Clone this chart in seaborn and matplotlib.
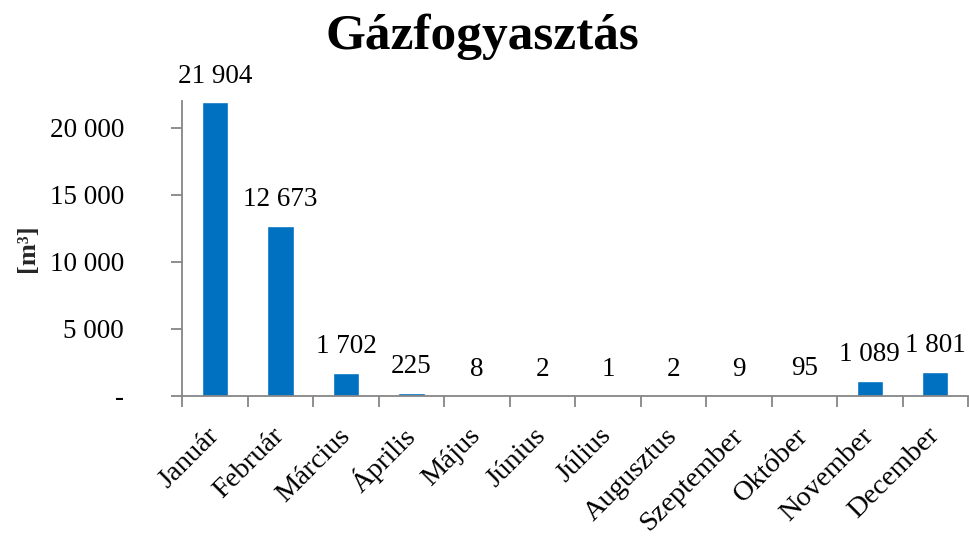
import seaborn as sns
import matplotlib.pyplot as plt
import matplotlib.ticker as mticker
import pandas as pd

months = ["Január", "Február", "Március", "Április", "Május", "Június",
          "Július", "Augusztus", "Szeptember", "Október", "November", "December"]
gas_m3 = [21904, 12673, 1702, 225, 8, 2, 1, 2, 9, 95, 1089, 1801]

df = pd.DataFrame({"month": months, "gas": gas_m3})


def hu_num(v):
    v = int(round(v))
    if v == 0:
        return "-"
    return f"{v:,}".replace(",", " ")


sns.set_style("white")
plt.rcParams["font.family"] = ["Liberation Serif", "DejaVu Serif"]
plt.rcParams["text.color"] = "black"
plt.rcParams["xtick.color"] = "black"
plt.rcParams["ytick.color"] = "black"

fig, ax = plt.subplots(figsize=(9.7, 5.38), dpi=100)
sns.barplot(data=df, x="month", y="gas", color="#0070C0", width=0.4,
            saturation=1, ax=ax)

# value labels above bars
for i, v in enumerate(gas_m3):
    ax.annotate(hu_num(v), (i, v), xytext=(0, 10), textcoords="offset points",
                ha="center", va="bottom", fontsize=19.5)

ax.set_xlim(-0.5, len(months) - 0.5)
ax.set_ylim(0, 22000)
ax.yaxis.set_major_locator(mticker.MultipleLocator(5000))
ax.yaxis.set_major_formatter(mticker.FuncFormatter(lambda v, p: hu_num(v)))

# tick marks between categories, labels under the bars
ax.tick_params(bottom=True, left=True)
ax.set_xticks(range(len(months)))
ax.set_xticks([i - 0.5 for i in range(len(months) + 1)], minor=True)
ax.tick_params(axis="x", which="major", length=0, pad=26)
ax.tick_params(axis="x", which="minor", bottom=True, length=8,
               color="#868686", width=1.3)
ax.tick_params(axis="y", length=8, color="#868686", width=1.3, pad=34,
               labelsize=19.5)
ax.set_xticklabels(months, rotation=45, ha="right", va="center",
                   rotation_mode="anchor", fontsize=20.5)

for side in ["top", "right"]:
    ax.spines[side].set_visible(False)
for side in ["left", "bottom"]:
    ax.spines[side].set_color("#868686")
    ax.spines[side].set_linewidth(1.3)

ax.set_xlabel("")
ax.set_ylabel("[m³]", fontsize=19, fontweight="bold", labelpad=8)
fig.suptitle("Gázfogyasztás", fontsize=37, fontweight="bold", x=0.497, y=0.975)

plt.subplots_adjust(left=0.188, right=0.998, top=0.812, bottom=0.264)
plt.savefig("out.png", dpi=100)
